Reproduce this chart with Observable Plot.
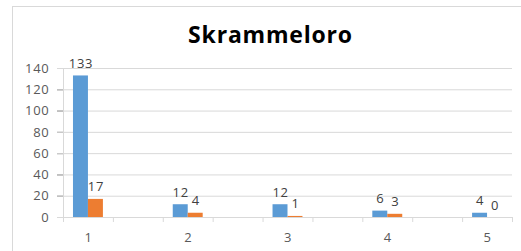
<!DOCTYPE html>
<html>
<head>
<meta charset="utf-8">
<script src="https://cdn.jsdelivr.net/npm/d3@7"></script>
<script src="https://cdn.jsdelivr.net/npm/@observablehq/plot@0.6"></script>
<style>
  html, body { margin: 0; padding: 0; background: #fff; width: 521px; height: 251px; overflow: hidden; }
  #frame { position: absolute; left: 12px; top: 6px; width: 560px; height: 300px; border: 1px solid #d9d9d9; box-sizing: border-box; }
  #title { position: absolute; left: 0; top: 23px; width: 541px; text-align: center; font-family: "Open Sans", sans-serif; font-weight: bold; font-size: 23px; line-height: 1; color: #000; letter-spacing: 0.8px; }
  #chart { position: absolute; left: 0; top: 50px; }
</style>
</head>
<body>
<div id="frame"></div>
<div id="title">Skrammeloro</div>
<div id="chart"></div>
<script>
const categories = ["1", "2", "3", "4", "5"];
const seriesA = [133, 12, 12, 6, 4];
const seriesB = [17, 4, 1, 3, 0];
const yTicks = [0, 20, 40, 60, 80, 100, 120, 140];
const slotCount = 9; // Excel category slots (labelled ones alternate with empty ones)

const colors = { A: "#5b9bd5", B: "#ed7d31" };

// each labelled category sits in slot 2*i, slot center = 2*i + 0.5
const barW = 0.3;
const rows = [];
categories.forEach((c, i) => {
  const center = 2 * i + 0.5;
  rows.push({ cat: c, series: "A", value: seriesA[i], x1: center - barW, x2: center });
  rows.push({ cat: c, series: "B", value: seriesB[i], x1: center, x2: center + barW });
});
const labelRows = categories.map((c, i) => ({ cat: c, x: 2 * i + 0.5 }));
const boundaries = d3.range(slotCount + 1);

const font = '"Open Sans", sans-serif';

const chart = Plot.plot({
  width: 521,
  height: 201,
  marginLeft: 63,
  marginRight: 9,
  marginTop: 18,
  marginBottom: 34,
  style: { fontFamily: font, fontSize: "13px", letterSpacing: "0.7px", color: "#595959", background: "transparent" },
  x: { type: "linear", domain: [0, slotCount], axis: null },
  y: { domain: [0, 140], ticks: yTicks, tickSize: 6, tickPadding: 8, label: null, tickFormat: d3.format("d") },
  marks: [
    Plot.ruleY(yTicks, { stroke: "#d9d9d9", strokeWidth: 1, insetLeft: -6 }),
    Plot.ruleX([0], { stroke: "#d9d9d9" }),
    Plot.ruleX(boundaries, { y1: 0, y2: 0, stroke: "#d9d9d9", insetBottom: -5 }),
    Plot.rect(rows, { x1: "x1", x2: "x2", y1: () => 0, y2: "value", fill: d => colors[d.series] }),
    Plot.text(rows, { x: d => (d.x1 + d.x2) / 2, y: "value", text: d => String(d.value), lineAnchor: "bottom", dy: -8, fill: "#404040", fontSize: 13 }),
    Plot.text(labelRows, { x: "x", y: () => 0, text: "cat", lineAnchor: "middle", dy: 20, fill: "#595959", fontSize: 13 })
  ]
});
document.getElementById("chart").appendChild(chart);
</script>
</body>
</html>
